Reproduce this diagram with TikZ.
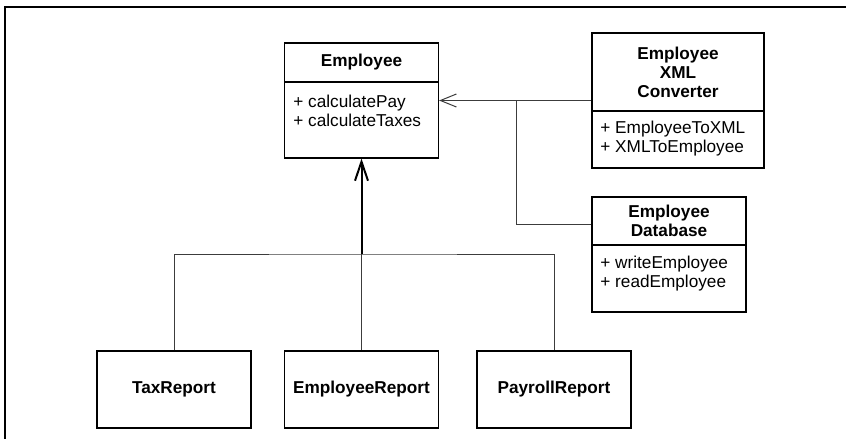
\documentclass[tikz,border=0pt]{standalone}
\usepackage{fontspec}
\setmainfont{Liberation Sans}
\usetikzlibrary{arrows.meta}
\definecolor{linegray}{RGB}{60,60,60}

\begin{document}
\begin{tikzpicture}[x=0.5pt, y=-0.5pt,
    classbox/.style={draw, line width=0.6pt, minimum width=77pt, inner sep=0pt},
    classname/.style={font=\fontsize{8.6}{9.5}\selectfont\bfseries, align=center, inner sep=0pt},
    methods/.style={font=\fontsize{8.6}{9.5}\selectfont, align=left, inner sep=0pt, anchor=north west},
    link/.style={draw=linegray, line width=0.5pt},
    barb/.style={-{Straight Barb[length=8pt, width=6.5pt]}}]

    \useasboundingbox (0,0) rectangle (846,439);
    \draw[line width=1pt] (5,439) -- (5,7) -- (846,7);

    % Employee
    \node[classbox, minimum height=57.5pt] (emp) at (361.5,100.5) {};
    \coordinate (empsep) at (361.5,82);
    \draw[line width=0.6pt] (empsep -| emp.west) -- (empsep -| emp.east);
    \node[classname] (empname) at (361.5,62.5) {Employee};
    \node[methods] (empops) at (293,95) {+ calculatePay\\+ calculateTaxes};

    % Employee XML Converter
    \node[classbox, minimum width=86pt, minimum height=67.5pt] (conv) at (678,100.5) {};
    \coordinate (convsep) at (678,111);
    \draw[line width=0.6pt] (convsep -| conv.west) -- (convsep -| conv.east);
    \node[classname] (convname) at (678,72) {Employee\\XML\\Converter};
    \node[methods] (convops) at (600,121) {+ EmployeeToXML\\+ XMLToEmployee};

    % Employee Database
    \node[classbox, minimum height=57.5pt] (db) at (669,254.5) {};
    \coordinate (dbsep) at (669,245);
    \draw[line width=0.6pt] (dbsep -| db.west) -- (dbsep -| db.east);
    \node[classname] (dbname) at (669,221) {Employee\\Database};
    \node[methods] (dbops) at (600,256) {+ writeEmployee\\+ readEmployee};

    % reports
    \node[classbox, minimum height=38.5pt, classname] (tax) at (174,389.5) {TaxReport};
    \node[classbox, minimum height=38.5pt, classname] (er) at (361.5,389.5) {EmployeeReport};
    \node[classbox, minimum height=38.5pt, classname] (pay) at (554,389.5) {PayrollReport};

    % connectors
    \coordinate (join) at (516,100.5);
    \coordinate (fork) at (361.5,254);
    \draw[link, barb] (conv.west) -- (emp.east);
    \draw[link] ([yshift=-14pt]db.north west) -| (join);
    \draw[line width=1pt, -{Straight Barb[length=9.5pt, width=6.5pt]}] (fork) -- (emp.south);
    \draw[link] (tax.north) |- (fork) -| (pay.north);
    \draw[link] (fork) -- (er.north);
\end{tikzpicture}
\end{document}
